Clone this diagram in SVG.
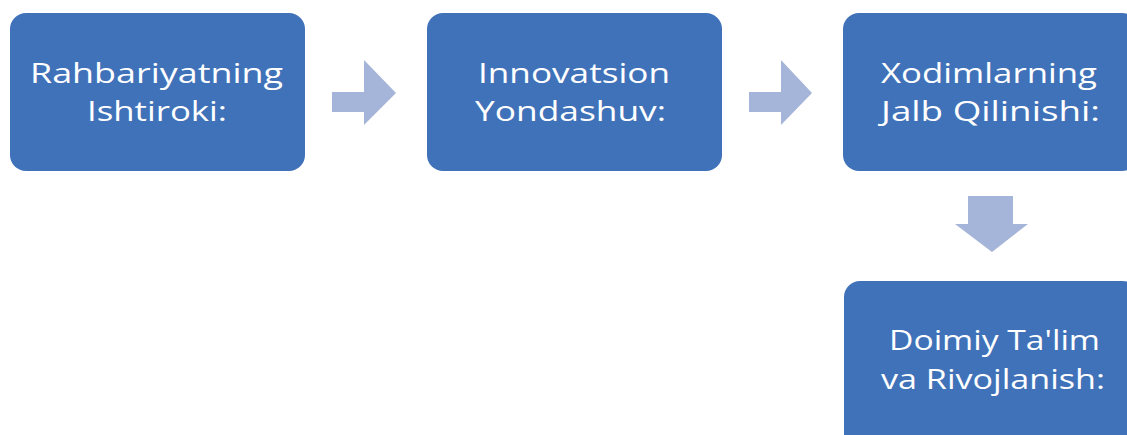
<svg xmlns="http://www.w3.org/2000/svg" width="1127" height="435" viewBox="0 0 1127 435">
<style>
.box{fill:#4072B9;}
.lbl{fill:#FFFFFF;font-family:"Open Sans","Noto Sans","Liberation Sans",sans-serif;font-size:28px;}
.arr{fill:#A5B5D9;}
</style>
<rect width="1127" height="435" fill="#FFFFFF"/>
<g id="connectors">
<polygon class="arr" points="332,92 364,92 364,60 396,93 364,125 364,112 332,112"/>
<polygon class="arr" points="749,92 781,92 781,60 812,93 781,125 781,112 749,112"/>
<polygon class="arr" points="968,196 1013,196 1013,224 1028,224 992,252 955,224 968,224"/>
</g>
<g id="node1">
<rect class="box" x="10" y="13" width="295" height="158" rx="16"/>
<text class="lbl" x="30" y="83" textLength="253" lengthAdjust="spacingAndGlyphs">Rahbariyatning</text>
<text class="lbl" x="87" y="121" textLength="140" lengthAdjust="spacingAndGlyphs">Ishtiroki:</text>
</g>
<g id="node2">
<rect class="box" x="427" y="13" width="295" height="158" rx="16"/>
<text class="lbl" x="478" y="83" textLength="192" lengthAdjust="spacingAndGlyphs">Innovatsion</text>
<text class="lbl" x="475" y="121" textLength="191" lengthAdjust="spacingAndGlyphs">Yondashuv:</text>
</g>
<g id="node3">
<rect class="box" x="843" y="13" width="295" height="158" rx="16"/>
<text class="lbl" x="881" y="83" textLength="216" lengthAdjust="spacingAndGlyphs">Xodimlarning</text>
<text class="lbl" x="881" y="121" textLength="219" lengthAdjust="spacingAndGlyphs">Jalb Qilinishi:</text>
</g>
<g id="node4">
<rect class="box" x="844" y="281" width="295" height="170" rx="16"/>
<text class="lbl" x="889" y="350" textLength="211" lengthAdjust="spacingAndGlyphs">Doimiy Ta'lim</text>
<text class="lbl" x="881" y="389" textLength="224" lengthAdjust="spacingAndGlyphs">va Rivojlanish:</text>
</g>
</svg>
